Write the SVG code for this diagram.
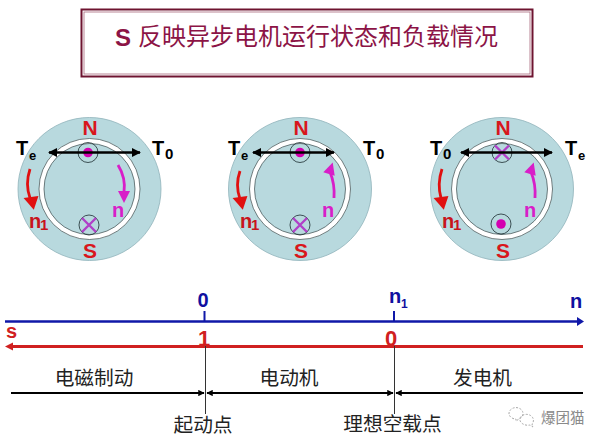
<svg xmlns="http://www.w3.org/2000/svg" width="605" height="444" viewBox="0 0 605 444">
<style>
text{font-family:"Liberation Sans","Noto Sans CJK SC",sans-serif}
.outer{fill:#b8d9de;stroke:#8fb3ba;stroke-width:.8}
.ring{fill:#fff;stroke:#3c4a4c;stroke-width:.7}
.inner{fill:#b8d9de;stroke:#3c4a4c;stroke-width:.7}
.slot{fill:none;stroke:#1c2c30;stroke-width:.8}
.x{stroke:#b040c8;stroke-width:2.400;fill:none}
.dot{fill:#d400b0}
.bar{stroke:#000;stroke-width:2.400;fill:none;marker-start:url(#bk);marker-end:url(#bk)}
.n1a{stroke:#e01010;stroke-width:2.800;fill:none}
.na{stroke:#d81ec8;stroke-width:2.800;fill:none}
.pole{font-size:21px;font-weight:700;fill:#d8161c;text-anchor:middle}
.t{font-size:20px;font-weight:700;fill:#000}
.sub{font-size:15px;font-weight:700}
.sube{font-size:13px;font-weight:700}
.n1t{font-size:20px;font-weight:700;fill:#c8141c}
.nt{font-size:20px;font-weight:700;fill:#d81ec8}
.zh{font-family:"Noto Sans CJK SC",sans-serif;font-size:19.700px;fill:#222;text-anchor:middle}
.axn{font-size:20px;font-weight:700;fill:#1010a0}
</style>
<defs>
<marker id="bk" viewBox="0 0 10 10" refX="9" refY="5" markerWidth="3.800" markerHeight="3.800" orient="auto-start-reverse"><path d="M0 0L10 5L0 10Z" fill="#000"/></marker>
<marker id="blk" viewBox="0 0 10 10" refX="9" refY="5" markerWidth="3.200" markerHeight="3.200" orient="auto-start-reverse"><path d="M0 0L10 5L0 10Z" fill="#000"/></marker>
<g id="cross"><circle r="10" class="slot"/><path class="x" d="M-7-7L7 7M-7 7L7-7"/></g>
<g id="point"><circle r="10" class="slot"/><circle r="4.800" class="dot"/></g>
<path id="redHead" d="M-7.500 0L7.500 0L1 13Z" fill="#e01010"/>
<path id="magHead" d="M-6 0L6 0L0 12Z" fill="#d81ec8"/>
</defs>
<g id="title">
<rect x="81.500" y="9.500" width="451" height="67" fill="#fff" stroke="#6e1430" stroke-width="2"/>
<rect x="84" y="12" width="446" height="62" fill="#fff" stroke="#a8687c" stroke-width=".8"/>
<text x="115" y="46" font-size="24" font-weight="700" fill="#8c1446">S</text>
<text x="138" y="45" font-size="24" fill="#8c1446" style="font-family:'Noto Sans CJK SC',sans-serif">反映异步电机运行状态和负载情况</text>
</g>
<g id="motor1">
<circle cx="89.500" cy="189" r="71.500" class="outer"/><circle cx="89.500" cy="189" r="50.500" class="ring"/><circle cx="89.500" cy="189" r="45.500" class="inner"/>
<use href="#point" x="88" y="152.500"/><use href="#cross" x="89" y="225"/>
<text x="90" y="135" class="pole">N</text><text x="90" y="258" class="pole">S</text>
<path class="bar" d="M49 152.500H140"/>
<text x="16" y="155" class="t">T</text><text x="29" y="160" class="sube">e</text>
<text x="152" y="155" class="t">T</text><text x="165" y="159" class="sub">0</text>
<path class="n1a" d="M30 169Q25 184 30 198"/><use href="#redHead" transform="translate(31 197) rotate(-8)"/>
<text x="29" y="228" class="n1t">n</text><text x="40" y="230" class="sub" fill="#c8141c">1</text>
<path class="na" d="M118 165Q126 178 124 192"/><use href="#magHead" transform="translate(124 191)"/>
<text x="112" y="217" class="nt">n</text>
</g>
<g id="motor2">
<circle cx="300" cy="189" r="71.500" class="outer"/><circle cx="300" cy="189" r="50.500" class="ring"/><circle cx="300" cy="189" r="45.500" class="inner"/>
<use href="#point" x="300" y="152.500"/><use href="#cross" x="300" y="225"/>
<text x="301" y="135" class="pole">N</text><text x="301" y="258" class="pole">S</text>
<path class="bar" d="M253 152.500H334"/>
<text x="228" y="155" class="t">T</text><text x="241" y="160" class="sube">e</text>
<text x="363" y="155" class="t">T</text><text x="376" y="159" class="sub">0</text>
<path class="n1a" d="M240 171Q235 185 240 199"/><use href="#redHead" transform="translate(240 197) rotate(-8)"/>
<text x="240" y="228" class="n1t">n</text><text x="251" y="230" class="sub" fill="#c8141c">1</text>
<path class="na" d="M334 198Q335 184 330 172"/><use href="#magHead" transform="translate(329 174) rotate(198)"/>
<text x="322" y="217" class="nt">n</text>
</g>
<g id="motor3">
<circle cx="502" cy="189" r="71.500" class="outer"/><circle cx="502" cy="189" r="50.500" class="ring"/><circle cx="502" cy="189" r="45.500" class="inner"/>
<use href="#cross" x="502" y="152.500"/><use href="#point" x="501" y="224"/>
<text x="503" y="135" class="pole">N</text><text x="503" y="258" class="pole">S</text>
<path class="bar" d="M461 152.500H552"/>
<text x="430" y="155" class="t">T</text><text x="443" y="159" class="sub">0</text>
<text x="565" y="155" class="t">T</text><text x="578" y="160" class="sube">e</text>
<path class="n1a" d="M442 169Q437 184 441 198"/><use href="#redHead" transform="translate(441 197) rotate(-8)"/>
<text x="442" y="228" class="n1t">n</text><text x="453" y="230" class="sub" fill="#c8141c">1</text>
<path class="na" d="M535 198Q536 184 531 172"/><use href="#magHead" transform="translate(530 174) rotate(198)"/>
<text x="524" y="217" class="nt">n</text>
</g>
<g id="connectors">
<path d="M5 321.500H579" stroke="#1018a8" stroke-width="2.500" fill="none"/>
<path d="M577 317L584 321.500L577 326Z" fill="#1018a8"/>
<path d="M204.500 311V321M394 311V321" stroke="#1018a8" stroke-width="2" fill="none"/>
<path d="M11 346.500H583" stroke="#d02020" stroke-width="2.800" fill="none"/>
<path d="M13 342.500L5 346.500L13 350.500Z" fill="#d02020"/>
<path d="M205.500 346V414M394.500 346V414" stroke="#333" stroke-width="1" fill="none"/>
<path d="M11 393H204" stroke="#000" stroke-width="2" fill="none" marker-end="url(#blk)"/>
<path d="M207 393H393" stroke="#000" stroke-width="2" fill="none" marker-start="url(#blk)" marker-end="url(#blk)"/>
<path d="M396 393H583" stroke="#000" stroke-width="2" fill="none" marker-start="url(#blk)"/>
</g>
<g id="axis-labels">
<text x="203" y="307" class="axn" text-anchor="middle">0</text>
<text x="389" y="303" class="axn">n</text><text x="401" y="308" font-size="12" font-weight="700" fill="#1010a0">1</text>
<text x="570" y="308" class="axn">n</text>
<text x="6" y="338" font-size="20" font-weight="700" fill="#d02020">s</text>
<text x="204" y="346" font-size="22" font-weight="700" fill="#d02020" text-anchor="middle">1</text>
<text x="391" y="346" font-size="22" font-weight="700" fill="#d02020" text-anchor="middle">0</text>
</g>
<g id="regions">
<text x="94" y="385" class="zh">电磁制动</text>
<text x="289" y="385" class="zh">电动机</text>
<text x="482.500" y="385" class="zh">发电机</text>
<text x="203" y="432" class="zh">起动点</text>
<text x="392.500" y="431" class="zh">理想空载点</text>
</g>
<g id="watermark">
<path d="M509 414a7 6 0 1 1 10 5l-3 2v-2a7 6 0 0 1-7-5Z" fill="none" stroke="#a8a8a8" stroke-width="1" stroke-dasharray="2 1.500"/>
<path d="M520 418a7 6 0 1 1 12 6l1 3-3-2a8 6 0 0 1-10-7Z" fill="none" stroke="#a8a8a8" stroke-width="1" stroke-dasharray="2 1.500"/>
<text x="541" y="423" font-size="14.500" fill="#8a8a8a" style="font-family:'Noto Sans CJK SC',sans-serif">爆团猫</text>
</g>
</svg>
